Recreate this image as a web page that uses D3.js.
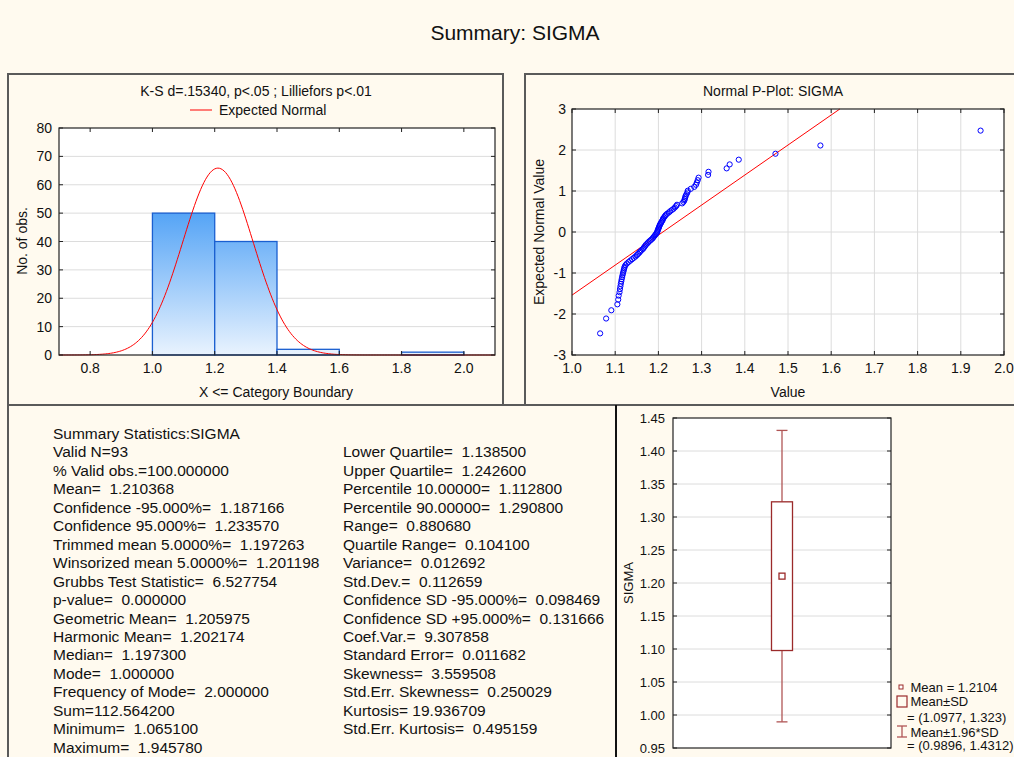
<!DOCTYPE html>
<html lang="en">
  <head>
    <meta charset="UTF-8" />
    <title>Summary: SIGMA</title>
    <script src="https://d3js.org/d3.v7.min.js"></script>
    <style>
      body {
        margin: 0;
        background: #fffaef;
        font-family: 'Liberation Sans', Arial, sans-serif;
      }
      svg text {
        fill: #111;
      }
      .stat {
        white-space: pre;
      }
    </style>
  </head>
  <body>
    <div id="chart"></div>
    <script>
      // ---- data ----
      const mainTitle = 'Summary: SIGMA';

      // histogram (bins of width 0.2)
      const binStarts = [1.0, 1.2, 1.4, 1.6, 1.8];
      const binCounts = [50, 40, 2, 0, 1];
      const histXTicks = [0.8, 1.0, 1.2, 1.4, 1.6, 1.8, 2.0];
      const histYTicks = [0, 10, 20, 30, 40, 50, 60, 70, 80];

      // summary numbers used for the expected normal curve
      const nValid = 93;
      const meanValue = 1.210368;
      const sdValue = 0.112659;

      // normal probability plot: observed value vs expected normal value
      const ppValues = [
        1.0651, 1.079, 1.091, 1.105, 1.107, 1.108, 1.11, 1.111, 1.112, 1.113,
        1.114, 1.115, 1.116, 1.117, 1.118, 1.119, 1.12, 1.121, 1.122, 1.124,
        1.127, 1.131, 1.135, 1.139, 1.143, 1.147, 1.15, 1.153, 1.156, 1.158,
        1.161, 1.164, 1.166, 1.168, 1.17, 1.172, 1.175, 1.177, 1.18, 1.183,
        1.186, 1.188, 1.19, 1.192, 1.194, 1.196, 1.1973, 1.198, 1.199, 1.2,
        1.201, 1.202, 1.203, 1.204, 1.206, 1.207, 1.209, 1.21, 1.211, 1.213,
        1.215, 1.217, 1.22, 1.224, 1.227, 1.231, 1.235, 1.238, 1.241, 1.243,
        1.255, 1.258, 1.26, 1.261, 1.262, 1.263, 1.265, 1.267, 1.268, 1.275,
        1.283, 1.287, 1.289, 1.291, 1.293, 1.315, 1.316, 1.358, 1.365, 1.386,
        1.471, 1.575, 1.9458
      ];
      const ppExpected = [
        -2.473, -2.11, -1.909, -1.764, -1.649, -1.552, -1.468, -1.393, -1.325, -1.264,
        -1.206, -1.152, -1.101, -1.053, -1.007, -0.964, -0.922, -0.881, -0.843, -0.805,
        -0.768, -0.732, -0.698, -0.664, -0.631, -0.598, -0.566, -0.535, -0.504, -0.474,
        -0.445, -0.415, -0.386, -0.357, -0.329, -0.3, -0.273, -0.245, -0.217, -0.19,
        -0.163, -0.135, -0.108, -0.081, -0.054, -0.027, 0, 0.027, 0.054, 0.081,
        0.108, 0.135, 0.163, 0.19, 0.217, 0.245, 0.273, 0.3, 0.329, 0.357,
        0.386, 0.415, 0.445, 0.474, 0.504, 0.535, 0.566, 0.598, 0.631, 0.664,
        0.698, 0.732, 0.768, 0.805, 0.843, 0.881, 0.922, 0.964, 1.007, 1.053,
        1.101, 1.152, 1.206, 1.264, 1.325, 1.393, 1.468, 1.552, 1.649, 1.764,
        1.909, 2.11, 2.473
      ];
      const ppLineX = [1.0, 1.62];
      const ppLineY = [-1.54, 3.0];
      const ppXTicks = [1.0, 1.1, 1.2, 1.3, 1.4, 1.5, 1.6, 1.7, 1.8, 1.9, 2.0];
      const ppYTicks = [-3, -2, -1, 0, 1, 2, 3];

      // box plot
      const boxMean = 1.2104;
      const boxSd = [1.0977, 1.323];
      const boxWhisk = [0.9896, 1.4312];
      const boxYTicks = [0.95, 1.0, 1.05, 1.1, 1.15, 1.2, 1.25, 1.3, 1.35, 1.4, 1.45];
      const boxLegend = [
        'Mean = 1.2104',
        'Mean±SD',
        '= (1.0977, 1.323)',
        'Mean±1.96*SD',
        '= (0.9896, 1.4312)'
      ];

      // summary statistics text
      const statsLeft = [
        'Summary Statistics:SIGMA',
        'Valid N=93',
        '% Valid obs.=100.000000',
        'Mean=  1.210368',
        'Confidence -95.000%=  1.187166',
        'Confidence 95.000%=  1.233570',
        'Trimmed mean 5.0000%=  1.197263',
        'Winsorized mean 5.0000%=  1.201198',
        'Grubbs Test Statistic=  6.527754',
        'p-value=  0.000000',
        'Geometric Mean=  1.205975',
        'Harmonic Mean=  1.202174',
        'Median=  1.197300',
        'Mode=  1.000000',
        'Frequency of Mode=  2.000000',
        'Sum=112.564200',
        'Minimum=  1.065100',
        'Maximum=  1.945780'
      ];
      const statsRight = [
        'Lower Quartile=  1.138500',
        'Upper Quartile=  1.242600',
        'Percentile 10.00000=  1.112800',
        'Percentile 90.00000=  1.290800',
        'Range=  0.880680',
        'Quartile Range=  0.104100',
        'Variance=  0.012692',
        'Std.Dev.=  0.112659',
        'Confidence SD -95.000%=  0.098469',
        'Confidence SD +95.000%=  0.131666',
        'Coef.Var.=  9.307858',
        'Standard Error=  0.011682',
        'Skewness=  3.559508',
        'Std.Err. Skewness=  0.250029',
        'Kurtosis= 19.936709',
        'Std.Err. Kurtosis=  0.495159'
      ];

      // ---- drawing ----
      const W = 1014, H = 757;
      const gridColor = '#dcdcdc';
      const boxColor = '#9b2a2a';
      const whiskColor = '#b05555';

      const svg = d3
        .select('#chart')
        .append('svg')
        .attr('width', W)
        .attr('height', H)
        .style('display', 'block');

      svg.append('rect').attr('width', W).attr('height', H).attr('fill', '#fffaef');

      const defs = svg.append('defs');

      // panel frames
      const frame = svg.append('g').attr('fill', 'none').attr('stroke', '#5a5a5a').attr('stroke-width', 2);
      frame.append('rect').attr('x', 8).attr('y', 74).attr('width', 495).attr('height', 331);
      frame.append('rect').attr('x', 525).attr('y', 74).attr('width', 500).attr('height', 331);
      frame.append('path').attr('d', `M8,${H + 2}V405H${W + 2}`);
      svg.append('line')
        .attr('x1', 616).attr('x2', 616).attr('y1', 405).attr('y2', H)
        .attr('stroke', '#111').attr('stroke-width', 2);

      svg.append('text')
        .attr('x', 515).attr('y', 40)
        .attr('text-anchor', 'middle')
        .attr('font-size', 21)
        .text(mainTitle);

      // helper: frame + inward ticks on all sides
      function plotFrame(g, x, y, xTicks, yTicks) {
        const [x0, x1] = x.range();
        const [y0, y1] = y.range();
        const tk = 4;
        g.append('rect')
          .attr('x', x0).attr('y', y1)
          .attr('width', x1 - x0).attr('height', y0 - y1)
          .attr('fill', 'none').attr('stroke', '#222').attr('stroke-width', 1.2);
        const t = g.append('g').attr('stroke', '#222').attr('stroke-width', 1);
        yTicks.forEach((v) => {
          t.append('line').attr('x1', x0).attr('x2', x0 + tk).attr('y1', y(v)).attr('y2', y(v));
          t.append('line').attr('x1', x1).attr('x2', x1 - tk).attr('y1', y(v)).attr('y2', y(v));
        });
        xTicks.forEach((v) => {
          t.append('line').attr('x1', x(v)).attr('x2', x(v)).attr('y1', y0).attr('y2', y0 - tk);
          t.append('line').attr('x1', x(v)).attr('x2', x(v)).attr('y1', y1).attr('y2', y1 + tk);
        });
      }

      // ===== histogram =====
      {
        const g = svg.append('g');
        const x = d3.scaleLinear().domain([0.7, 2.1]).range([59, 495]);
        const y = d3.scaleLinear().domain([0, 80]).range([355, 128]);

        g.append('text').attr('x', 256).attr('y', 96).attr('text-anchor', 'middle')
          .attr('font-size', 14).text('K-S d=.15340, p<.05 ; Lilliefors p<.01');
        g.append('line').attr('x1', 190).attr('x2', 212).attr('y1', 110).attr('y2', 110)
          .attr('stroke', '#ff0000').attr('stroke-width', 1);
        g.append('text').attr('x', 219).attr('y', 115).attr('font-size', 14).text('Expected Normal');

        g.append('rect')
          .attr('x', x.range()[0]).attr('y', y.range()[1])
          .attr('width', x.range()[1] - x.range()[0]).attr('height', y.range()[0] - y.range()[1])
          .attr('fill', '#fff');

        g.append('g').attr('stroke', gridColor).attr('stroke-width', 1)
          .selectAll('line').data(histYTicks.slice(1, -1)).join('line')
          .attr('x1', x.range()[0]).attr('x2', x.range()[1])
          .attr('y1', (d) => y(d)).attr('y2', (d) => y(d));

        const grad = defs.append('linearGradient')
          .attr('id', 'barGrad').attr('gradientUnits', 'userSpaceOnUse')
          .attr('x1', 0).attr('x2', 0).attr('y1', y(50)).attr('y2', y(0));
        grad.append('stop').attr('offset', 0).attr('stop-color', '#55a4f6');
        grad.append('stop').attr('offset', 1).attr('stop-color', '#e9f3fe');

        g.append('g').selectAll('rect').data(binStarts).join('rect')
          .attr('x', (d) => x(d))
          .attr('y', (d, i) => y(binCounts[i]))
          .attr('width', (d) => x(d + 0.2) - x(d))
          .attr('height', (d, i) => y(0) - y(binCounts[i]))
          .attr('fill', 'url(#barGrad)')
          .attr('stroke', (d, i) => (binCounts[i] > 0 ? '#1a5fd0' : 'none'))
          .attr('stroke-width', 1.3);

        const binW = 0.2;
        const curveX = d3.range(0.7, 2.1001, 0.005);
        const curve = d3.line()
          .x((d) => x(d))
          .y((d) => y((nValid * binW) / (sdValue * Math.sqrt(2 * Math.PI)) *
            Math.exp(-0.5 * ((d - meanValue) / sdValue) ** 2)));
        g.append('path').attr('d', curve(curveX)).attr('fill', 'none')
          .attr('stroke', '#ff0000').attr('stroke-width', 1);

        plotFrame(g, x, y, histXTicks, histYTicks);

        g.append('g').attr('font-size', 14).attr('text-anchor', 'end')
          .selectAll('text').data(histYTicks).join('text')
          .attr('x', 52).attr('y', (d) => y(d) + 5).text((d) => d);
        g.append('g').attr('font-size', 14).attr('text-anchor', 'middle')
          .selectAll('text').data(histXTicks).join('text')
          .attr('x', (d) => x(d)).attr('y', 373).text(d3.format('.1f'));

        g.append('text').attr('x', 276).attr('y', 397).attr('text-anchor', 'middle')
          .attr('font-size', 14).text('X <= Category Boundary');
        g.append('text').attr('transform', 'translate(27,241) rotate(-90)')
          .attr('text-anchor', 'middle').attr('font-size', 14).text('No. of obs.');
      }

      // ===== normal probability plot =====
      {
        const g = svg.append('g');
        const x = d3.scaleLinear().domain([1.0, 2.0]).range([572, 1004]);
        const y = d3.scaleLinear().domain([-3, 3]).range([355, 109]);

        g.append('text').attr('x', 773).attr('y', 96).attr('text-anchor', 'middle')
          .attr('font-size', 14).text('Normal P-Plot: SIGMA');

        g.append('rect')
          .attr('x', 572).attr('y', 109).attr('width', 432).attr('height', 246).attr('fill', '#fff');

        const grid = g.append('g').attr('stroke', gridColor).attr('stroke-width', 1);
        grid.selectAll('.gx').data(ppXTicks.slice(1, -1)).join('line').attr('class', 'gx')
          .attr('x1', (d) => x(d)).attr('x2', (d) => x(d))
          .attr('y1', y(-3)).attr('y2', y(3));
        grid.selectAll('.gy').data(ppYTicks.slice(1, -1)).join('line').attr('class', 'gy')
          .attr('x1', x(1.0)).attr('x2', x(2.0))
          .attr('y1', (d) => y(d)).attr('y2', (d) => y(d));

        g.append('line')
          .attr('x1', x(ppLineX[0])).attr('y1', y(ppLineY[0]))
          .attr('x2', x(ppLineX[1])).attr('y2', y(ppLineY[1]))
          .attr('stroke', '#ff0000').attr('stroke-width', 1);

        g.append('g').selectAll('circle').data(ppValues).join('circle')
          .attr('cx', (d) => x(d))
          .attr('cy', (d, i) => y(ppExpected[i]))
          .attr('r', 2.6)
          .attr('fill', 'none')
          .attr('stroke', '#0000ff')
          .attr('stroke-width', 1);

        plotFrame(g, x, y, ppXTicks, ppYTicks);

        g.append('g').attr('font-size', 14).attr('text-anchor', 'end')
          .selectAll('text').data(ppYTicks).join('text')
          .attr('x', 566).attr('y', (d) => y(d) + 5).text((d) => d);
        g.append('g').attr('font-size', 14).attr('text-anchor', 'middle')
          .selectAll('text').data(ppXTicks).join('text')
          .attr('x', (d) => x(d)).attr('y', 373).text(d3.format('.1f'));

        g.append('text').attr('x', 788).attr('y', 397).attr('text-anchor', 'middle')
          .attr('font-size', 14).text('Value');
        g.append('text').attr('transform', 'translate(544,232) rotate(-90)')
          .attr('text-anchor', 'middle').attr('font-size', 14).text('Expected Normal Value');
      }

      // ===== summary text =====
      {
        const g = svg.append('g').attr('font-size', 15.5);
        const lh = 18.45;
        g.selectAll('.l').data(statsLeft).join('text').attr('class', 'stat l')
          .attr('x', 53).attr('y', (d, i) => 439 + i * lh).text((d) => d);
        g.selectAll('.r').data(statsRight).join('text').attr('class', 'stat r')
          .attr('x', 343).attr('y', (d, i) => 439 + (i + 1) * lh).text((d) => d);
      }

      // ===== box plot =====
      {
        const g = svg.append('g');
        const y = d3.scaleLinear().domain([0.95, 1.45]).range([748, 418]);
        const x = d3.scaleLinear().domain([0, 1]).range([673, 891]);

        g.append('rect').attr('x', 673).attr('y', 418).attr('width', 218).attr('height', 330).attr('fill', '#fff');
        g.append('g').attr('stroke', gridColor).attr('stroke-width', 1)
          .selectAll('line').data(boxYTicks.slice(1, -1)).join('line')
          .attr('x1', x(0)).attr('x2', x(1))
          .attr('y1', (d) => y(d)).attr('y2', (d) => y(d));

        const cx = x(0.5);
        const bw = 21, cw = 11;
        const bp = g.append('g').attr('stroke', boxColor).attr('fill', 'none');
        bp.append('line').attr('x1', cx).attr('x2', cx).attr('y1', y(boxWhisk[1])).attr('y2', y(boxSd[1]))
          .attr('stroke', whiskColor).attr('stroke-width', 1.3);
        bp.append('line').attr('x1', cx).attr('x2', cx).attr('y1', y(boxSd[0])).attr('y2', y(boxWhisk[0]))
          .attr('stroke', whiskColor).attr('stroke-width', 1.3);
        boxWhisk.forEach((v) => {
          bp.append('line').attr('x1', cx - cw / 2).attr('x2', cx + cw / 2).attr('y1', y(v)).attr('y2', y(v))
            .attr('stroke', whiskColor).attr('stroke-width', 1.3);
        });
        bp.append('rect')
          .attr('x', cx - bw / 2).attr('y', y(boxSd[1]))
          .attr('width', bw).attr('height', y(boxSd[0]) - y(boxSd[1]))
          .attr('fill', '#fff').attr('stroke-width', 1.3);
        bp.append('rect')
          .attr('x', cx - 3).attr('y', y(boxMean) - 3).attr('width', 6).attr('height', 6)
          .attr('fill', '#fff').attr('stroke-width', 1.3);

        plotFrame(g, x, y, [], boxYTicks);

        g.append('g').attr('font-size', 13).attr('text-anchor', 'end')
          .selectAll('text').data(boxYTicks).join('text')
          .attr('x', 665).attr('y', (d) => y(d) + 4.5).text(d3.format('.2f'));
        g.append('text').attr('transform', 'translate(633,583) rotate(-90)')
          .attr('text-anchor', 'middle').attr('font-size', 13).text('SIGMA');

        // legend
        const lg = g.append('g').attr('font-size', 13);
        const ly = [691.5, 705.5, 721.5, 736.5, 750];
        boxLegend.forEach((t, i) => {
          lg.append('text').attr('x', i === 2 || i === 4 ? 907 : 910.5).attr('y', ly[i]).text(t);
        });
        lg.append('rect').attr('x', 899).attr('y', 685).attr('width', 4).attr('height', 4)
          .attr('fill', '#fff').attr('stroke', boxColor).attr('stroke-width', 1);
        lg.append('rect').attr('x', 897).attr('y', 696).attr('width', 10).attr('height', 11)
          .attr('fill', 'none').attr('stroke', boxColor).attr('stroke-width', 1.2);
        const wk = lg.append('g').attr('stroke', whiskColor).attr('stroke-width', 1.3);
        wk.append('line').attr('x1', 902).attr('x2', 902).attr('y1', 726).attr('y2', 737);
        wk.append('line').attr('x1', 897).attr('x2', 907).attr('y1', 726).attr('y2', 726);
        wk.append('line').attr('x1', 897).attr('x2', 907).attr('y1', 737).attr('y2', 737);
      }
    </script>
  </body>
</html>
